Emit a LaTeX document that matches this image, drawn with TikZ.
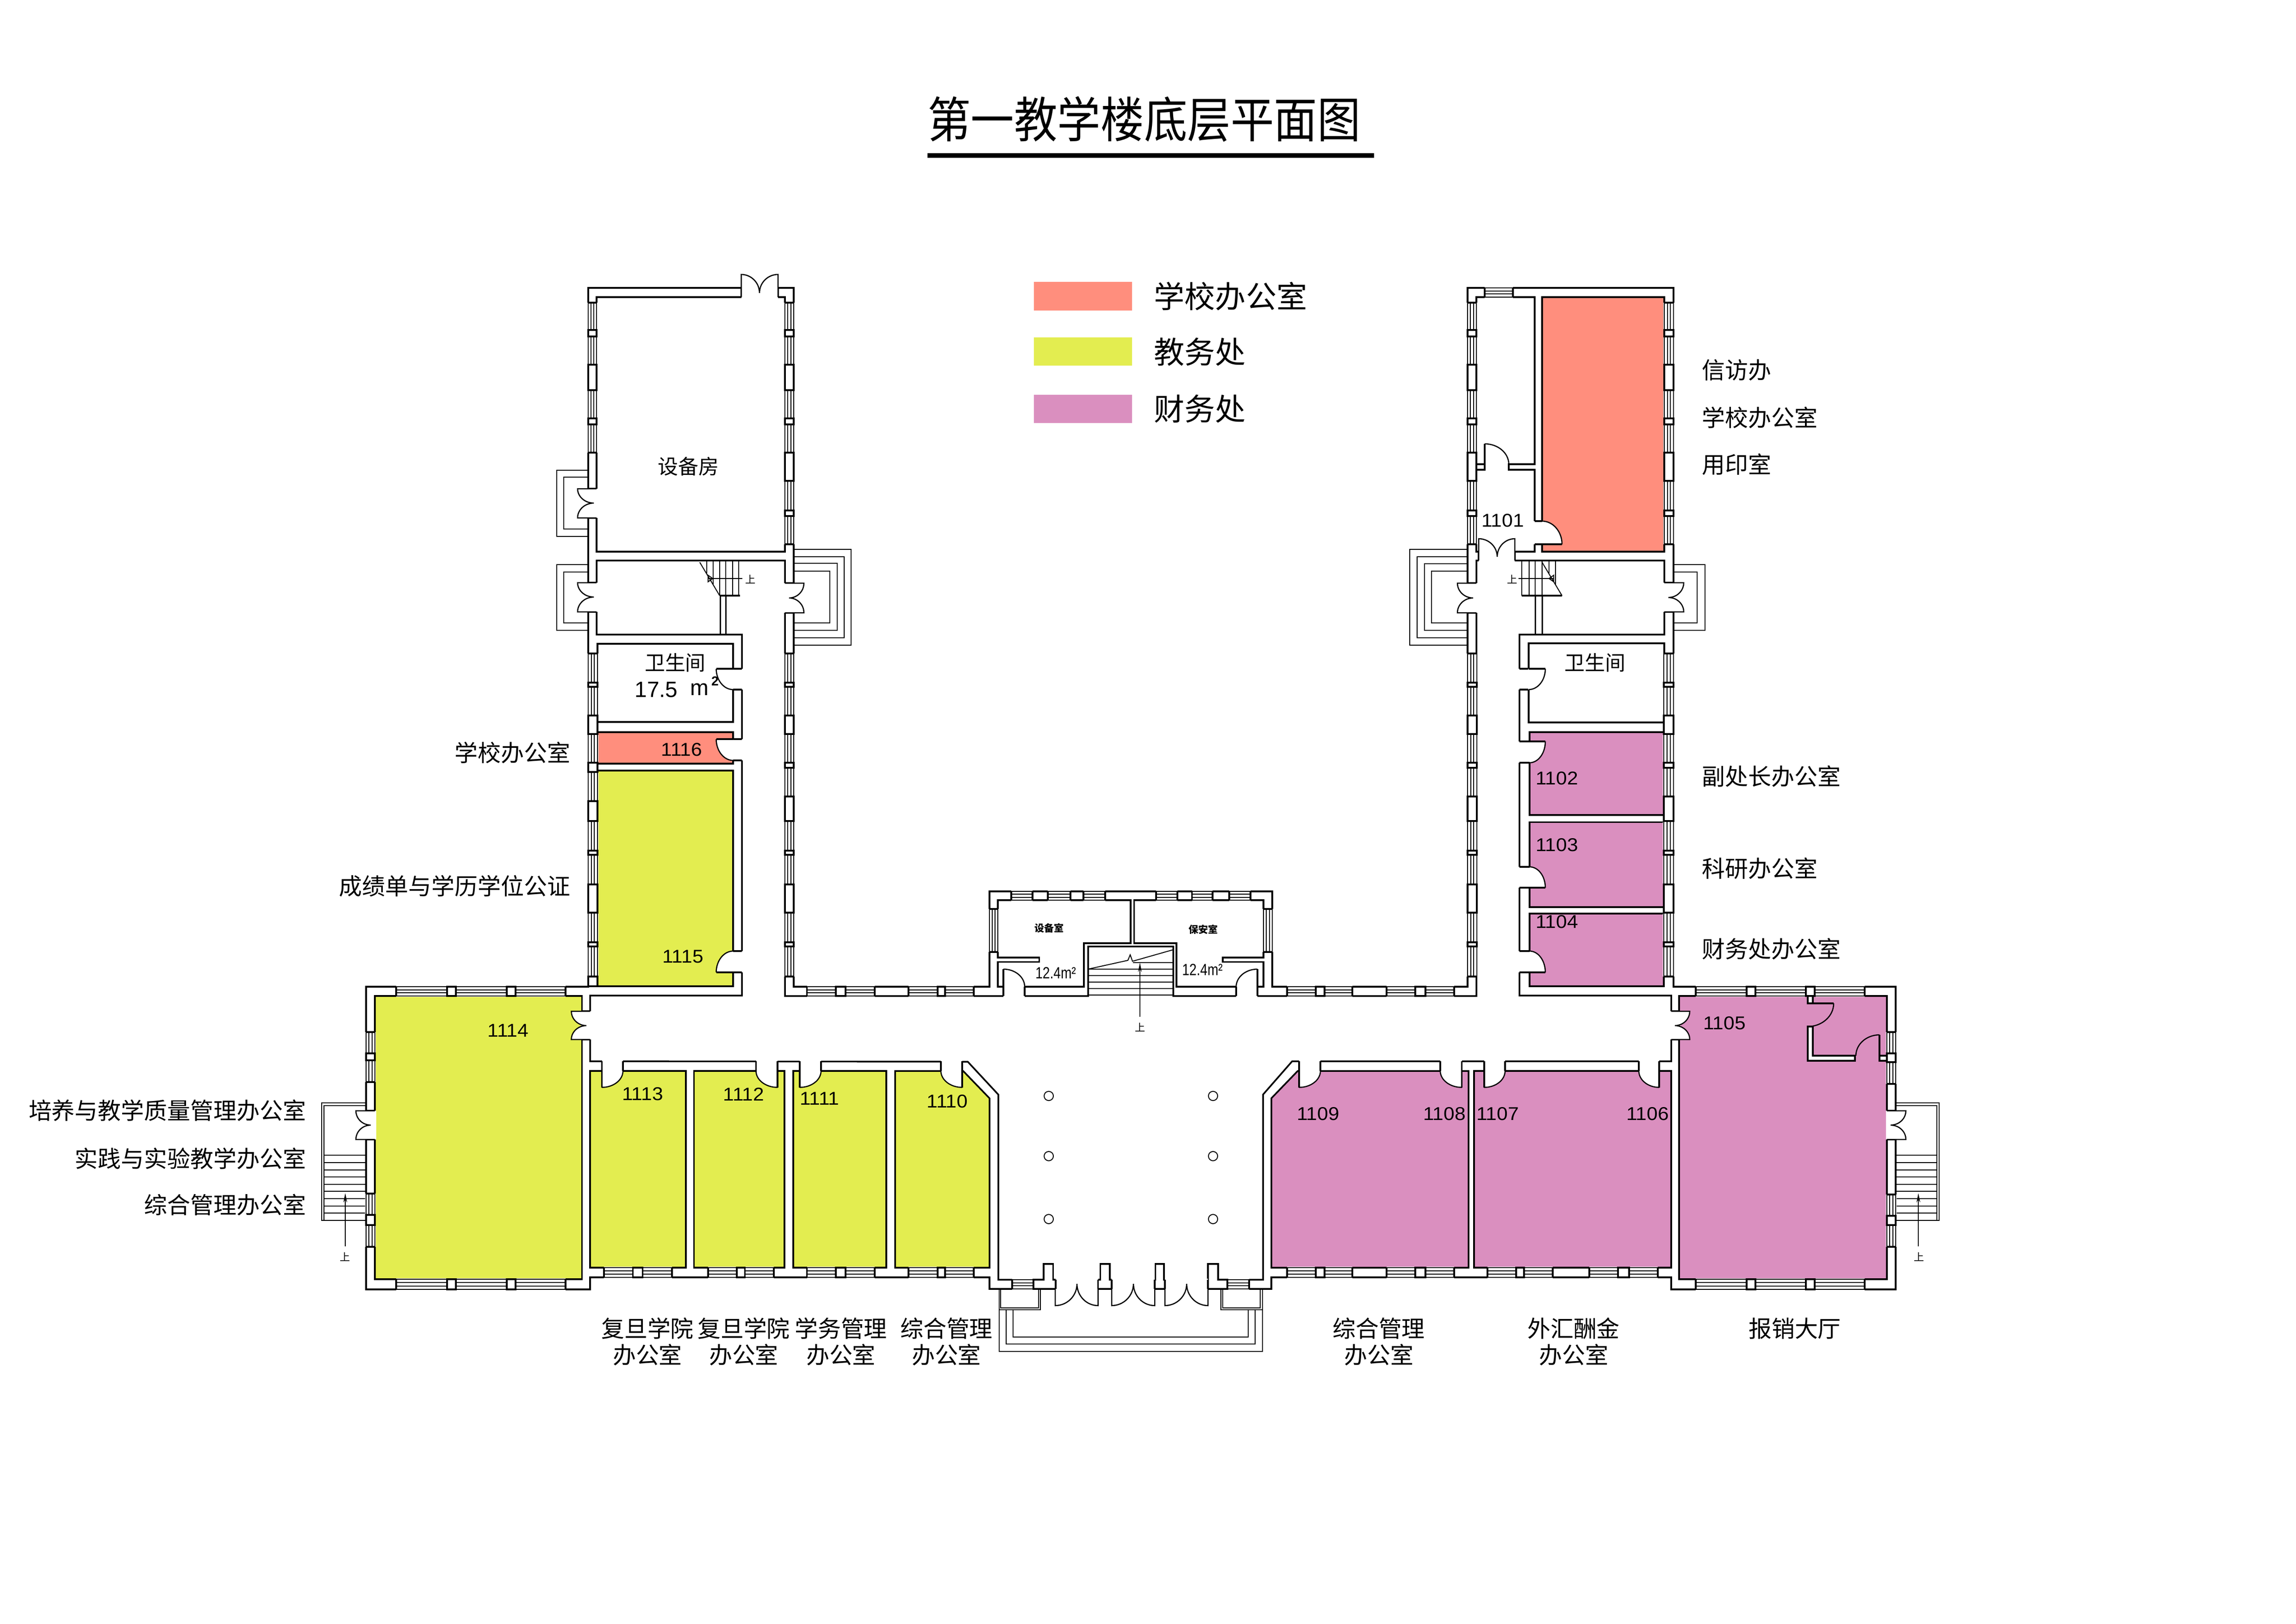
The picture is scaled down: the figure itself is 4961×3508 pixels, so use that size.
\documentclass[tikz,border=0pt]{standalone}
\usepackage{fontspec}
\setmainfont{Liberation Sans}
\newfontfamily\cjk{Noto Sans CJK SC}
\usetikzlibrary{calc,arrows.meta}
\definecolor{cSal}{HTML}{FF8E7D}
\definecolor{cYel}{HTML}{E3ED50}
\definecolor{cPin}{HTML}{DA8FBF}
\newcommand\fA{\fontsize{14.2pt}{16pt}\selectfont\cjk}
\newcommand\fL{\fontsize{18.8pt}{22pt}\selectfont\cjk}
\newcommand\fT{\fontsize{29.9pt}{34pt}\selectfont\cjk}
\newcommand\fR{\fontsize{12.5pt}{15pt}\selectfont\cjk}
\newcommand\fN{\fontsize{11.4pt}{14pt}\selectfont}
\newcommand\fS{\fontsize{6pt}{7pt}\selectfont\cjk\bfseries}
\newcommand\fU{\fontsize{6.3pt}{8pt}\selectfont\cjk}
\tikzset{
  wline/.style={line width=0.035cm,line join=miter},
  thinl/.style={line width=0.02cm},
  arcl/.style={line width=0.025cm},
  lab/.style={inner sep=0pt,font=\fA},
  num/.style={inner sep=0pt,font=\fN},
  roomtxt/.style={inner sep=0pt,font=\fR},
  updn/.style={inner sep=0pt,font=\fU},
  arrowl/.style={thinl,-{Stealth[length=0.2cm,width=0.08cm]}}
}
% window in a vertical wall: x1,x2,y1,y2
\newcommand\wv[4]{%
  \pgfmathsetmacro\ma{#1+(#2-#1)/3}\pgfmathsetmacro\mb{#1+2*(#2-#1)/3}%
  \fill[white] (#1-1.8,#3) rectangle (#2+1.8,#4);
  \draw[thinl] (#1,#3)--(#1,#4) (#2,#3)--(#2,#4) (\ma,#3)--(\ma,#4) (\mb,#3)--(\mb,#4);
  \draw[wline] (#1,#3)--(#2,#3) (#1,#4)--(#2,#4);}
% window in a horizontal wall: x1,x2,y1,y2
\newcommand\wh[4]{%
  \pgfmathsetmacro\ma{#3+(#4-#3)/3}\pgfmathsetmacro\mb{#3+2*(#4-#3)/3}%
  \fill[white] (#1,#3-1.8) rectangle (#2,#4+1.8);
  \draw[thinl] (#1,#3)--(#2,#3) (#1,#4)--(#2,#4) (#1,\ma)--(#2,\ma) (#1,\mb)--(#2,\mb);
  \draw[wline] (#1,#3)--(#1,#4) (#2,#3)--(#2,#4);}
\newcommand\pier[4]{\draw[wline,fill=white] (#1,#3) rectangle (#2,#4);}
% gap through a vertical wall: x1,x2,y1,y2
\newcommand\gapv[4]{\fill[white] (#1-2.5,#3) rectangle (#2+2.5,#4);
  \draw[wline] (#1,#3)--(#2,#3) (#1,#4)--(#2,#4);}
% gap through a horizontal wall: x1,x2,y1,y2
\newcommand\gaph[4]{\fill[white] (#1,#3-2.5) rectangle (#2,#4+2.5);
  \draw[wline] (#1,#3)--(#1,#4) (#2,#3)--(#2,#4);}
% quarter curve from a to b with corner c
\newcommand\qcurve[6]{(#1,#2) .. controls ($(#1,#2)!.55!(#5,#6)$) and ($(#3,#4)!.55!(#5,#6)$) .. (#3,#4)}
% single door: hinge, leaf end, arc end; option colour of wedge
\newcommand\sdoor[7][white]{%
  \pgfmathsetmacro\cx{#4+#6-#2}\pgfmathsetmacro\cy{#5+#7-#3}%
  \fill[#1] (#2,#3) -- \qcurve{#4}{#5}{#6}{#7}{\cx}{\cy} -- cycle;
  \draw[wline] (#2,#3)--(#4,#5);
  \draw[arcl] \qcurve{#4}{#5}{#6}{#7}{\cx}{\cy};}
% double door in vertical wall: far, tip, jamb, y1, mid, y2
\newcommand\ddv[6]{%
  \fill[white] (#3,#4)--\qcurve{#1}{#4}{#2}{#5}{#1}{#5}--\qcurve{#2}{#5}{#1}{#6}{#1}{#5}--(#3,#6)--cycle;
  \draw[arcl] (#3,#4)--\qcurve{#1}{#4}{#2}{#5}{#1}{#5}--\qcurve{#2}{#5}{#1}{#6}{#1}{#5}--(#3,#6);}
% double door in horizontal wall: far, tip, jamb, x1, mid, x2
\newcommand\ddh[6]{%
  \fill[white] (#4,#3)--\qcurve{#4}{#1}{#5}{#2}{#5}{#1}--\qcurve{#5}{#2}{#6}{#1}{#5}{#1}--(#6,#3)--cycle;
  \draw[arcl] (#4,#3)--\qcurve{#4}{#1}{#5}{#2}{#5}{#1}--\qcurve{#5}{#2}{#6}{#1}{#5}{#1}--(#6,#3);}
\newcommand\upperrun[2]{\wv{#1}{#2}{654}{1176}
  \foreach \a/\b in {713/727,788/843,904/917,978/1039,1103/1115}{\pier{#1}{#2}{\a}{\b}}}
\newcommand\lowerrun[4]{\wv{#1}{#2}{1412}{2110}
  \foreach \a/\b in {1475/1484,1546/1586,1648/#3,#4/1774,1838/1847,1911/1972,2036/2045}{\pier{#1}{#2}{\a}{\b}}}
\newcommand\stub[2]{\fill[white] (#1,2731) rectangle (#2,2767.5);
  \draw[wline] (#1,2767)--(#1,2731)--(#2,2731)--(#2,2767);}
\begin{document}
\begin{tikzpicture}[x=0.01cm,y=-0.01cm]
\useasboundingbox (0,0) rectangle (4961,3508);
\fill[white] (0,0) rectangle (4961,3508);
% title and legend
\node[inner sep=0pt,font=\fT] (title) at (2472,258) {\scalebox{.89}[1]{第一教学楼底层平面图}};
\fill[black] (2004,331) rectangle (2969,341);
\fill[cSal] (2234,609) rectangle (2446,671);
\fill[cYel] (2234,729) rectangle (2446,790);
\fill[cPin] (2234,853) rectangle (2446,914);
\node[inner sep=0pt,font=\fL,anchor=west] (legA) at (2493,640) {学校办公室};
\node[inner sep=0pt,font=\fL,anchor=west] (legB) at (2493,760) {教务处};
\node[inner sep=0pt,font=\fL,anchor=west] (legC) at (2493,883) {财务处};
% porches
\begin{scope}[thinl]
\draw (1271,1016)--(1202.5,1016)--(1202.5,1159)--(1271,1159) (1271,1031)--(1218,1031)--(1218,1143)--(1271,1143);
\draw (1271,1220)--(1202.5,1220)--(1202.5,1362)--(1271,1362) (1271,1236)--(1218,1236)--(1218,1346)--(1271,1346);
\draw (1715,1187)--(1839,1187)--(1839,1394)--(1715,1394) (1715,1203)--(1824,1203)--(1824,1378)--(1715,1378)
      (1715,1217)--(1809,1217)--(1809,1362)--(1715,1362) (1715,1234)--(1793,1234)--(1793,1346)--(1715,1346);
\draw (3171,1187)--(3046,1187)--(3046,1394)--(3171,1394) (3171,1203)--(3062,1203)--(3062,1378)--(3171,1378)
      (3171,1218)--(3077.5,1218)--(3077.5,1362)--(3171,1362) (3171,1234)--(3093,1234)--(3093,1346)--(3171,1346);
\draw (3616,1220)--(3684,1220)--(3684,1362)--(3616,1362) (3616,1236)--(3667,1236)--(3667,1346)--(3616,1346);
% side stairs
\draw (791,2383)--(695,2383)--(695,2637)--(791,2637) (791,2389)--(700,2389)--(700,2637);
\draw (4096,2383)--(4190,2383)--(4190,2637)--(4096,2637) (4096,2389)--(4185,2389)--(4185,2637);
\foreach \y in {2496,2512,2528,2543,2559,2574,2590,2606,2621}{
  \draw (700,\y)--(791,\y); \draw (4096,\y)--(4185,\y);}
% entrance steps
\draw (2159,2785)--(2159,2920)--(2727.5,2920)--(2727.5,2785);
\draw (2159,2830)--(2248,2830)--(2248,2785) (2162,2785)--(2162,2826)--(2244,2826)--(2244,2785);
\draw (2727.5,2830)--(2638,2830)--(2638,2785) (2723,2785)--(2723,2826)--(2642,2826)--(2642,2785);
\draw (2174,2830)--(2174,2904)--(2712,2904)--(2712,2830);
\draw (2189,2830)--(2189,2889)--(2697,2889)--(2697,2830);
\end{scope}
% outline of the building
\draw[wline,fill=white] (1271,622)--(1715,622)--(1715,2132)--(2138,2132)--(2138,1926)--(2749,1926)--(2749,2132)--(3171,2132)--(3171,622)--(3616,622)--(3616,2132)--(4096,2132)--(4096,2786)--(3611,2786)--(3611,2760)--(2747,2760)--(2747,2785)--(2138,2785)--(2138,2760)--(1275,2760)--(1275,2786)--(791,2786)--(791,2132)--(1271,2132)--cycle;
% corridors and lobby
\draw[wline,fill=white] (1289,1211)--(1696,1211)--(1696,2152)--(2351,2152)--(2351,2045)--(2535,2045)--(2535,2152)--(3190,2152)--(3190,1211)--(3596,1211)--(3596,1371)--(3283,1371)--(3283,2151)--(3611,2151)--(3611,2293)--(2792,2293)--(2729,2365)--(2729,2765)--(2157,2765)--(2157,2365)--(2091,2294)--(1275,2293)--(1275,2151)--(1603,2151)--(1603,1371)--(1289,1371)--cycle;
% rooms
\draw[wline,fill=white] (1289,642) rectangle (1696,1192);
\draw[wline,fill=white] (1291,1391) rectangle (1584,1560);
\draw[wline,fill=cSal] (1291,1582) rectangle (1584,1650);
\draw[wline,fill=cYel] (1291,1665) rectangle (1584,2131);
\draw[wline,fill=cYel] (810,2152) rectangle (1257.5,2764);
\draw[wline,fill=cYel] (1275,2314) rectangle (1482,2739);
\draw[wline,fill=cYel] (1499.5,2314) rectangle (1695,2739);
\draw[wline,fill=cYel] (1714,2314) rectangle (1915,2739);
\draw[wline,fill=cYel] (1934,2314)--(2081,2314)--(2138,2373)--(2138,2739)--(1934,2739)--cycle;
\draw[wline,fill=cPin] (2804,2314)--(2747,2373)--(2747,2739)--(3173,2739)--(3173,2314)--cycle;
\draw[wline,fill=cPin] (3185,2314) rectangle (3611,2739);
\draw[wline,fill=cPin] (3628,2152) rectangle (4077,2764);
\draw[wline,fill=white] (3190,642)--(3316,642)--(3316,1003)--(3260,1003)--(3260,1015)--(3316,1015)--(3316,1192)--(3190,1192)--(3190,1015)--(3208,1015)--(3208,1003)--(3190,1003)--cycle;
\draw[wline,fill=cSal] (3332,642) rectangle (3596,1192);
\draw[wline,fill=white] (3303,1390) rectangle (3596,1561);
\draw[wline,fill=cPin] (3305,1582) rectangle (3595,1761);
\draw[wline,fill=cPin] (3305,1776.5) rectangle (3595,1960);
\draw[wline,fill=cPin] (3305,1974) rectangle (3595,2131);
% central block rooms
\draw[wline,fill=white] (2156,1945)--(2443,1945)--(2443,2038)--(2342,2038)--(2342,2132)--(2156,2132)--(2156,2078.5)--(2245.5,2078.5)--(2245.5,2069)--(2156,2069)--cycle;
\draw[wline,fill=white] (2450.5,1945)--(2730,1945)--(2730,2069)--(2642,2069)--(2642,2078.5)--(2730,2078.5)--(2730,2132)--(2542,2132)--(2542,2038)--(2450.5,2038)--cycle;
% walls inside room 1105
\pier{3906}{3917}{2152}{2168}
\draw[wline,fill=white] (3906,2218)--(3917,2218)--(3917,2281)--(4008,2281)--(4008,2292)--(3906,2292)--cycle;
\pier{4061}{4077}{2281}{2292}
\draw[wline] (3906,2168)--(3962,2168) (4061,2236)--(4061,2292);
\draw[arcl] \qcurve{3962}{2168}{3906}{2218}{3962}{2218};
\draw[arcl] \qcurve{4061}{2236}{4010}{2281}{4010}{2236};
% doors: single
\gapv{1584}{1603}{1445}{1490}\sdoor{1584}{1445}{1547.5}{1445}{1584}{1490}
\gapv{1584}{1603}{1597}{1643}\sdoor{1584}{1597}{1547.5}{1597}{1584}{1643}
\gapv{1584}{1603}{2055}{2101}\sdoor{1584}{2101}{1547.5}{2101}{1584}{2055}
\gapv{3283}{3302}{1445}{1490}\sdoor{3303}{1445}{3339}{1445}{3303}{1490}
\gapv{3283}{3305}{1602}{1648}\sdoor{3305}{1602}{3339}{1602}{3305}{1648}
\gapv{3283}{3305}{1873}{1918}\sdoor{3305}{1918}{3339}{1918}{3305}{1873}
\gapv{3283}{3305}{2055}{2101}\sdoor{3305}{2101}{3339}{2101}{3305}{2055}
\gaph{1300.5}{1346}{2293}{2314}\sdoor{1300.5}{2314}{1300.5}{2349.5}{1346}{2314}
\gaph{1633.5}{1680}{2293}{2314}\sdoor{1680}{2314}{1680}{2349.5}{1633.5}{2314}
\gaph{1728}{1774}{2293}{2314}\sdoor{1728}{2314}{1728}{2349.5}{1774}{2314}
\gaph{2033}{2079}{2293}{2314}\sdoor{2079}{2314}{2079}{2349.5}{2033}{2314}
\gaph{2807}{2853}{2293}{2314}\sdoor{2807}{2314}{2807}{2349.5}{2853}{2314}
\gaph{3112}{3158.5}{2293}{2314}\sdoor{3158.5}{2314}{3158.5}{2349.5}{3112}{2314}
\gaph{3207}{3252}{2293}{2314}\sdoor{3207}{2314}{3207}{2349.5}{3252}{2314}
\gaph{3541}{3585}{2293}{2314}\sdoor{3585}{2314}{3585}{2349.5}{3541}{2314}
\gapv{3316}{3332}{1126}{1176}\sdoor{3332}{1176}{3375}{1176}{3332}{1126}
\draw[wline] (3208,1015)--(3208,959);
\draw[arcl] \qcurve{3208}{959}{3260}{1003}{3260}{959};
\gaph{2168}{2214}{2132}{2152}\sdoor{2168}{2132}{2168}{2094}{2214}{2132}
\gaph{2671}{2717}{2132}{2152}\sdoor{2717}{2132}{2717}{2094}{2671}{2132}
\draw[wline] (2717,2132)--(2717,2152) (2168,2132)--(2168,2152);
% doors: double
\gapv{1271}{1289}{1056}{1119}\ddv{1248}{1283}{1289}{1056}{1087}{1119}
\gapv{1271}{1289}{1259}{1322}\ddv{1248}{1283}{1289}{1259}{1290}{1322}
\gapv{1696}{1715}{1260}{1324}\ddv{1737}{1705}{1696}{1260}{1292}{1324}
\gapv{3171}{3190}{1260}{1324}\ddv{3149}{3183}{3190}{1260}{1292}{1324}
\gapv{3596}{3616}{1259}{1322}\ddv{3638}{3605}{3596}{1259}{1291}{1322}
\gapv{1257.5}{1275}{2185}{2246}\ddv{1234.5}{1267}{1275}{2185}{2216}{2246}
\gapv{3611}{3628}{2185}{2246}\ddv{3651}{3619}{3611}{2185}{2216}{2246}
\gapv{791}{810}{2400}{2462}\ddv{769}{801}{810}{2400}{2431}{2462}
\gapv{4077}{4096}{2400}{2462}\ddv{4118}{4085}{4077}{2400}{2431}{2462}
\gaph{1601.5}{1681}{622}{642}\ddh{593}{633}{642}{1601.5}{1641}{1681}
\gaph{3195}{3273}{1192}{1211}\ddh{1164}{1203}{1211}{3195}{3235}{3273}
% windows of the wings
\wv{1271}{1289}{654}{978}
\foreach \a/\b in {713/727,788/843,904/917}{\pier{1271}{1289}{\a}{\b}}
\upperrun{1696}{1715}
\upperrun{3171}{3190}
\upperrun{3596}{3616}
\lowerrun{1271}{1291}{1668}{1731}
\lowerrun{1696}{1715}{1659}{1721}
\lowerrun{3171}{3191}{1659}{1721}
\lowerrun{3595}{3616}{1659}{1721}
\pier{1271}{1291}{2110}{2131}
\wh{3208}{3269}{622}{642}
% windows of the main block
\wh{856}{1222}{2132}{2152}\pier{966}{985}{2132}{2152}\pier{1095}{1114}{2132}{2152}
\wh{856}{1222}{2764}{2786}\pier{966}{985}{2764}{2786}\pier{1095}{1114}{2764}{2786}
\wh{3664}{4029}{2132}{2152}\pier{3774}{3793}{2132}{2152}\pier{3902}{3921}{2132}{2152}
\wh{3664}{4029}{2764}{2786}\pier{3774}{3793}{2764}{2786}\pier{3902}{3921}{2764}{2786}
\wv{791}{810}{2230}{2338}\pier{791}{810}{2276}{2291}
\wv{791}{810}{2579}{2694}\pier{791}{810}{2625}{2647}
\wv{4077}{4096}{2230}{2342}\pier{4077}{4096}{2276}{2295}
\wv{4077}{4096}{2581}{2694}\pier{4077}{4096}{2627}{2647}
\foreach \p/\q/\r/\s in {1305/1452/1367.5/1388.5,1530/1672/1592/1609.5,1743.5/1890/1806/1827,1963/2104/2026/2042,2781/2922/2843/2862,2996/3142/3058/3080,3214/3355/3276/3293,3434/3582/3496/3520}{
  \wh{\p}{\q}{2739}{2760}\pier{\r}{\s}{2739}{2760}}
\foreach \p/\q/\r/\s in {1743.5/1890/1806/1827,1963/2104/2026/2042,2781/2922/2843/2862,2996/3142/3058/3080}{
  \wh{\p}{\q}{2132}{2152}\pier{\r}{\s}{2132}{2152}}
\foreach \p/\q in {2185/2231,2264/2313,2341/2388,2498/2544,2575.5/2620,2656/2702}{\wh{\p}{\q}{1926}{1945}}
\wv{2138}{2156}{1964}{2057}
\wv{2730}{2749}{1964}{2057}
\wh{2187}{2233}{2765}{2785}
\wh{2652}{2699}{2765}{2785}
% entrance piers and doors
\pier{2233}{2281}{2765}{2785}\stub{2255}{2275.5}
\pier{2372.5}{2402}{2765}{2785}\stub{2377.5}{2398}
\pier{2495}{2517}{2765}{2785}\stub{2496.5}{2515}
\pier{2610}{2652}{2765}{2785}\stub{2610}{2632}
\gaph{2281}{2372.5}{2765}{2785}\ddh{2821}{2774}{2785}{2280}{2327}{2372.5}
\gaph{2402}{2495}{2765}{2785}\ddh{2821}{2774}{2785}{2402}{2449}{2495}
\gaph{2517}{2610}{2765}{2785}\ddh{2821}{2774}{2785}{2517}{2564}{2610}
% columns
\foreach \cxx in {2266,2621}{\foreach \cyy in {2368,2498,2634}{\draw[thinl] (\cxx,\cyy) circle[radius=0.1cm];}}
% central stairs
\begin{scope}[thinl]
\foreach \y in {2094,2108,2122,2136,2150}{\draw (2351,\y)--(2535,\y);}
\draw (2448,2080)--(2535,2080);
\draw (2351,2094)--(2437,2075)--(2442,2063)--(2447,2077)--(2535,2052);
\draw[arrowl] (2463,2197)--(2463,2080);
% wing stairs
\foreach \x/\y in {1526.5/1239,1541/1264,1555/1287,1568/1287,1583/1287,1596/1287}{\draw (\x,1211)--(\x,\y);}
\draw (1512,1215)--(1555,1287);
\draw (1530,1250)--(1604,1250);
\draw (1530,1243)--(1540,1250)--(1530,1257)--cycle;
\foreach \x/\y in {3288/1287,3304/1287,3317/1287,3332/1287,3347/1240,3361/1264}{\draw (\x,1211)--(\x,\y);}
\draw (3332,1215)--(3375,1287);
\draw (3281,1250)--(3357,1250);
\draw (3357,1243)--(3347,1250)--(3357,1257)--cycle;
\draw[arrowl] (746,2693)--(746,2578);
\draw[arrowl] (4145,2693)--(4145,2578);
\end{scope}
\draw[wline] (1555,1287)--(1599,1287) (3288,1287)--(3375,1287);
\draw[line width=0.03cm] (1556,1287)--(1556,1371) (1568,1287)--(1568,1371) (3317,1287)--(3317,1371) (3332,1287)--(3332,1371);
% up marks
\node[updn] (upA) at (1622,1252) {上};
\node[updn] (upB) at (3268,1252) {上};
\node[updn] (upC) at (2464,2220) {上};
\node[updn] (upD) at (746,2716) {上};
\node[updn] (upE) at (4147,2716) {上};
% room numbers
\foreach \n/\px/\py in {1116/1473/1620,1115/1475.5/2066.5,1114/1098/2227,1113/1388.6/2364,1112/1607/2364,1111/1771/2374,1110/2047/2380,1109/2848/2407,1108/3121/2407,1107/3236/2407,1106/3560/2407,1105/3726/2211,1101/3247/1125,1102/3364/1682,1103/3364/1826,1104/3364/1992}{
  \node[num] (r\n) at (\px,\py) {\scalebox{1.06}[1]{\n}};}
% names inside rooms
\node[roomtxt] (eq) at (1487,1008) {设备房};
\node[roomtxt] (wcL) at (1459,1432) {卫生间};
\node[roomtxt] (wcR) at (3446,1432) {卫生间};
\node[inner sep=0pt,font=\fontsize{13.6pt}{16pt}\selectfont] (areaA) at (1418,1490) {17.5};
\node[inner sep=0pt,font=\fontsize{13.6pt}{16pt}\selectfont] (areaB) at (1511,1490) {m};
\node[inner sep=0pt,font=\fontsize{8pt}{10pt}\selectfont\bfseries] (areaC) at (1545,1472) {2};
\node[inner sep=0pt,font=\fS] (eqs) at (2267,2005) {设备室};
\node[inner sep=0pt,font=\fS] (sec) at (2600,2008) {保安室};
\node[inner sep=0pt,font=\fontsize{10pt}{12pt}\selectfont] (aL) at (2281,2102) {\scalebox{.8}[1]{12.4m²}};
\node[inner sep=0pt,font=\fontsize{10pt}{12pt}\selectfont] (aR) at (2598,2095) {\scalebox{.8}[1]{12.4m²}};
% department labels
\node[lab,anchor=east] (l1) at (1233,1626) {学校办公室};
\node[lab,anchor=east] (l2) at (1233,1914) {成绩单与学历学位公证};
\node[lab,anchor=east] (l3) at (662,2399) {培养与教学质量管理办公室};
\node[lab,anchor=east] (l4) at (662,2503) {实践与实验教学办公室};
\node[lab,anchor=east] (l5) at (662,2603) {综合管理办公室};
\node[lab,anchor=west] (l6) at (3677,800) {信访办};
\node[lab,anchor=west] (l7) at (3677,902) {学校办公室};
\node[lab,anchor=west] (l8) at (3677,1003) {用印室};
\node[lab,anchor=west] (l9) at (3677,1677) {副处长办公室};
\node[lab,anchor=west] (l10) at (3677,1876) {科研办公室};
\node[lab,anchor=west] (l11) at (3677,2050) {财务处办公室};
\node[lab] (b1) at (1399,2870) {复旦学院};
\node[lab] (b1b) at (1399,2927) {办公室};
\node[lab] (b2) at (1607,2870) {复旦学院};
\node[lab] (b2b) at (1607,2927) {办公室};
\node[lab] (b3) at (1817,2870) {学务管理};
\node[lab] (b3b) at (1817,2927) {办公室};
\node[lab] (b4) at (2045,2870) {综合管理};
\node[lab] (b4b) at (2045,2927) {办公室};
\node[lab] (b5) at (2979,2870) {综合管理};
\node[lab] (b5b) at (2979,2927) {办公室};
\node[lab] (b6) at (3400,2870) {外汇酬金};
\node[lab] (b6b) at (3400,2927) {办公室};
\node[lab] (b7) at (3878,2870) {报销大厅};
\end{tikzpicture}
\end{document}
